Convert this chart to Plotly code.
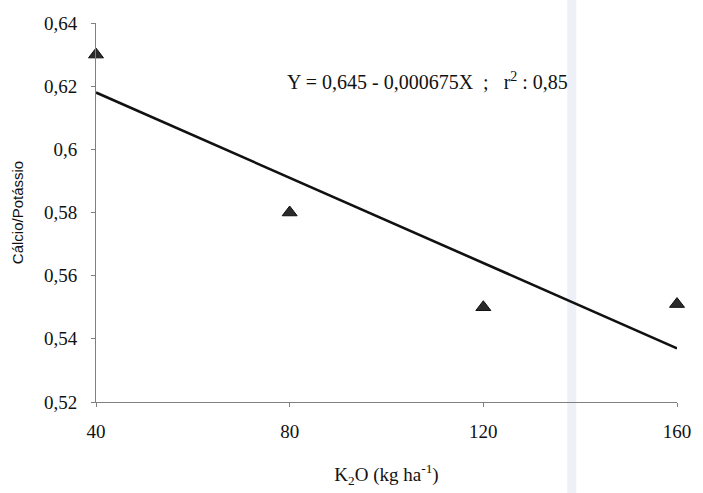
import plotly.graph_objects as go

# Data
k2o = [40, 80, 120, 160]
ca_k = [0.63, 0.58, 0.55, 0.551]
intercept = 0.645
slope = -0.000675
fit_x = [40, 160]
fit_y = [intercept + slope * x for x in fit_x]
y_ticks = [0.52, 0.54, 0.56, 0.58, 0.60, 0.62, 0.64]
y_tick_labels = ["0,52", "0,54", "0,56", "0,58", "0,6", "0,62", "0,64"]
x_ticks = [40, 80, 120, 160]
x_tick_labels = ["40", "80", "120", "160"]

serif = "Liberation Serif, Times New Roman, serif"
sp = "&nbsp;"

fig = go.Figure()

fig.add_trace(go.Scatter(
    x=fit_x, y=fit_y, mode="lines",
    line=dict(color="#111111", width=2.6),
    showlegend=False, hoverinfo="skip", cliponaxis=False))

fig.add_trace(go.Scatter(
    x=k2o, y=ca_k, mode="markers", cliponaxis=False,
    marker=dict(symbol="triangle-up", size=13, color="#2b2b2b",
                line=dict(color="#111111", width=1)),
    showlegend=False))

fig.add_annotation(
    x=79.0, y=0.6215, xref="x", yref="y", xanchor="left", yanchor="middle",
    text="Y = 0,645 - 0,000675X" + sp * 2 + ";" + sp * 3 + "r<sup>2</sup> : 0,85",
    showarrow=False,
    font=dict(family=serif, size=20, color="#111111"))

# scan artefact band
fig.add_shape(type="rect", xref="paper", yref="paper",
              x0=(573 - 96) / 588, x1=(582 - 96) / 588, y0=-0.35, y1=1.1,
              fillcolor="#dfe4ef", opacity=0.55, line=dict(width=0), layer="below")

fig.update_layout(
    width=703, height=493,
    margin=dict(l=96, r=19, t=23, b=82),
    paper_bgcolor="white", plot_bgcolor="white",
    font=dict(family=serif, size=19, color="#111111"),
    xaxis=dict(
        range=[40, 160], tickmode="array", tickvals=x_ticks, ticktext=x_tick_labels,
        showgrid=False, zeroline=False, showline=True, linecolor="#808080", linewidth=1,
        ticks="outside", ticklen=4, tickcolor="#808080", ticklabelstandoff=8,
        title=dict(text="K<sub>2</sub>O (kg ha<sup>-1</sup>)", font=dict(family=serif, size=19), standoff=26),
        tickfont=dict(family=serif, size=19)),
    yaxis=dict(
        range=[0.52, 0.64], tickmode="array", tickvals=y_ticks, ticktext=y_tick_labels,
        showgrid=False, zeroline=False, showline=True, linecolor="#808080", linewidth=1,
        ticks="outside", ticklen=4, tickcolor="#808080", ticklabelstandoff=10,
        title=dict(text="Cálcio/Potássio", font=dict(family="Liberation Sans, Arial, sans-serif", size=15), standoff=16),
        tickfont=dict(family=serif, size=19)),
)

fig.write_html("out.html")
